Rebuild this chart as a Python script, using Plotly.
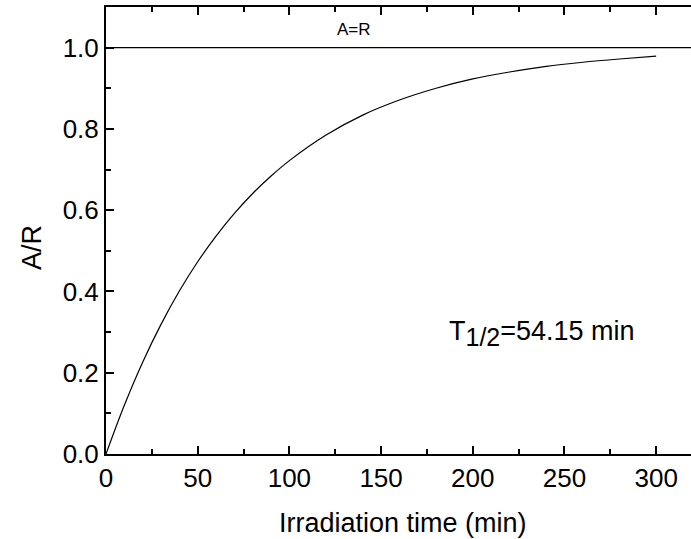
import plotly.graph_objects as go

# Data
time_min = [0, 10, 20, 30, 40, 50, 60, 70, 80, 90, 100, 120, 140, 160, 180, 200, 220, 240, 260, 280, 300]
a_over_r = [0.0, 0.120, 0.226, 0.319, 0.401, 0.473, 0.536, 0.592, 0.641, 0.684, 0.722,
            0.785, 0.834, 0.871, 0.900, 0.923, 0.940, 0.954, 0.964, 0.972, 0.979]
ref_x = [0, 320]
ref_y = [1.0, 1.0]
x_ticks = [0, 50, 100, 150, 200, 250, 300]
y_ticks = [0.0, 0.2, 0.4, 0.6, 0.8, 1.0]

fig = go.Figure()
fig.add_trace(go.Scatter(x=ref_x, y=ref_y, mode="lines",
                         line=dict(color="black", width=1.2), showlegend=False))
fig.add_trace(go.Scatter(x=time_min, y=a_over_r, mode="lines",
                         line=dict(color="black", width=1.2, shape="spline"), showlegend=False))

font = "Liberation Sans, Arial, sans-serif"
fig.add_annotation(x=135, y=1.044, text="A=R", showarrow=False,
                   font=dict(family=font, size=17, color="black"))
fig.add_annotation(x=238, y=0.296, text="T<sub><span style='font-size:25px'>1/2</span></sub>=54.15 min",
                   showarrow=False, font=dict(family=font, size=27, color="black"))
# axis titles (pixel positions, converted to paper coords below)
fig.add_annotation(x=403, y=523, xref="paper", yref="paper", text="Irradiation time (min)",
                   showarrow=False, font=dict(family=font, size=27, color="black"))
fig.add_annotation(x=32, y=248, xref="paper", yref="paper", text="A/R", textangle=-90,
                   showarrow=False, font=dict(family=font, size=27, color="black"))

W, H = 691, 539
ml, mr, mt, mb = 106, 0, 7, 85
pw, ph = W - ml - mr, H - mt - mb
for ann in fig.layout.annotations:
    if ann.xref == "paper":
        ann.x = (ann.x - ml) / pw
        ann.y = (H - mb - ann.y) / ph
        ann.xanchor = "center"
        ann.yanchor = "middle"

common = dict(showgrid=False, zeroline=False, showline=True, linecolor="black",
              linewidth=2, ticks="inside", ticklen=8, tickwidth=1.5, tickcolor="black",
              tickfont=dict(family=font, size=26, color="black"))

fig.update_xaxes(range=[0, 319], tickvals=x_ticks, mirror="ticks",
                 minor=dict(dtick=25, ticks="inside", ticklen=5, tickwidth=1.5, tickcolor="black"),
                 **common)
fig.update_yaxes(range=[0, 1.1], tickvals=y_ticks, tickformat=".1f", mirror=False,
                 minor=dict(dtick=0.1, ticks="inside", ticklen=5, tickwidth=1.5, tickcolor="black"),
                 **common)

fig.update_layout(width=W, height=H, margin=dict(l=ml, r=mr, t=mt, b=mb),
                  paper_bgcolor="white", plot_bgcolor="white")

fig.write_html("out.html")
